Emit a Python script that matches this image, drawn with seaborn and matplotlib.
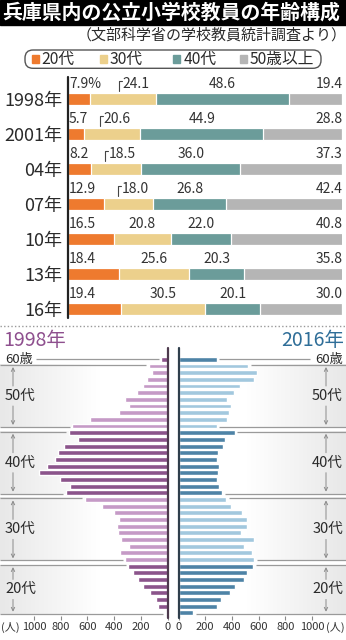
import numpy as np
import pandas as pd
import matplotlib
matplotlib.use("Agg")
import matplotlib.pyplot as plt
import seaborn as sns
from matplotlib.patches import Rectangle, FancyBboxPatch

sns.set_theme(style="white")
plt.rcParams["font.family"] = ["Noto Sans CJK JP", "DejaVu Sans"]

# ---------------- data ----------------
title = "兵庫県内の公立小学校教員の年齢構成"
source = "（文部科学省の学校教員統計調査より）"

years = ["1998年", "2001年", "04年", "07年", "10年", "13年", "16年"]
share_20s = [7.9, 5.7, 8.2, 12.9, 16.5, 18.4, 19.4]
share_30s = [24.1, 20.6, 18.5, 18.0, 20.8, 25.6, 30.5]
share_40s = [48.6, 44.9, 36.0, 26.8, 22.0, 20.3, 20.1]
share_50s = [19.4, 28.8, 37.3, 42.4, 40.8, 35.8, 30.0]
group_labels = ["20代", "30代", "40代", "50歳以上"]

ages = list(range(60, 21, -1))          # 60歳 down to 22歳
teachers_1998 = [45, 140, 115, 152, 182, 232, 317, 292, 367, 582, 712,
                 739, 669, 772, 822, 844, 901, 964, 807, 727, 759,
                 619, 489, 402, 365, 377, 372, 345, 290, 357, 315,
                 294, 262, 219, 185, 131, 85, 70, 10]
teachers_2016 = [286, 523, 588, 563, 462, 413, 361, 392, 381, 361, 286,
                 420, 348, 331, 298, 286, 303, 296, 286, 306, 328,
                 356, 393, 473, 511, 511, 466, 566, 493, 548, 566,
                 560, 515, 491, 423, 386, 318, 291, 111]
decade_labels = {5: "50代", 4: "40代", 3: "30代", 2: "20代"}
count_ticks = [0, 200, 400, 600, 800, 1000]

# ---------------- styling ----------------
group_colors = ["#ee7a2e", "#ecd08c", "#6b9c9a", "#b5b5b5"]
purple = {"dark": "#8b548b", "light": "#c59ac6"}
blue = {"dark": "#4e83a6", "light": "#a2c8de"}
line_c = "#9a9a9a"
text_c = "#2a2a2a"

W, H = 346, 640
fig = plt.figure(figsize=(W / 100, H / 100), dpi=100)
fig.patch.set_facecolor("white")


def frame(x0, y0, x1, y1):
    return [x0 / W, 1 - y1 / H, (x1 - x0) / W, (y1 - y0) / H]


# ---------------- stacked share bars ----------------
axb = fig.add_axes(frame(68.3, 81.3, 342.3, 326.5), zorder=2)
axb.set_facecolor("none")
s20, s30, s40, s50 = (np.array(v) for v in (share_20s, share_30s, share_40s, share_50s))
levels = [s20 + s30 + s40 + s50, s20 + s30 + s40, s20 + s30, s20]
for level, col in zip(levels, group_colors[::-1]):
    sns.barplot(x=level, y=years, orient="h", order=years, color=col,
                width=0.35, saturation=1, edgecolor="white", linewidth=0.9,
                errorbar=None, ax=axb)
axb.set_xlim(0, 100)
axb.set_ylim(6.5, -0.5)
axb.set_xticks([])
axb.set_xlabel("")
axb.set_ylabel("")
for s in axb.spines.values():
    s.set_visible(False)
axb.tick_params(axis="y", left=False, length=0, pad=4.5, labelsize=13,
                labelcolor=text_c)
axb.axvline(0, ymin=0.035, ymax=1.0175, color="#222222", lw=1.6,
            clip_on=False, zorder=5)

lab_kw = dict(fontsize=10, color="#333333", va="center")
bracket_shift = [10.6, 5.9, 5.2, 5.2]
for i in range(len(years)):
    y = i - 0.42
    first = f"{s20[i]:.1f}" + ("%" if i == 0 else "")
    axb.text(0.25, y, first, ha="left", **lab_kw)
    if i < len(bracket_shift):
        xb = s20[i] + bracket_shift[i]
        axb.plot([xb, xb, xb + 1.2], [i - 0.22, i - 0.5, i - 0.5],
                 color="#444444", lw=0.8, clip_on=False)
        axb.text(xb + 1.3, y, f"{s30[i]:.1f}", ha="left", **lab_kw)
    else:
        axb.text(s20[i] + s30[i] / 2, y, f"{s30[i]:.1f}", ha="center", **lab_kw)
    axb.text(s20[i] + s30[i] + s40[i] / 2, y, f"{s40[i]:.1f}", ha="center", **lab_kw)
    axb.text(100, y, f"{s50[i]:.1f}", ha="right", **lab_kw)

# ---------------- age pyramids ----------------
age_str = [str(a) for a in ages]
shade = ["dark" if (a // 10) % 2 == 0 else "light" for a in ages]
pyr = pd.DataFrame({"age": age_str, "y1998": teachers_1998,
                    "y2016": teachers_2016, "shade": shade})

px_per = 167.5 / 1255
far = 1255
gap = 2.7 / px_per


def from_outer(px):
    return far - px / px_per


def draw_pyramid(rect, col, palette, axis_color, side):
    ax = fig.add_axes(rect, zorder=2)
    ax.set_facecolor("none")
    sns.barplot(data=pyr, x=col, y="age", hue="shade", palette=palette,
                order=age_str, orient="h", width=0.74, saturation=1,
                dodge=False, legend=False, errorbar=None, ax=ax, zorder=3)
    counts = pyr[col].to_numpy()
    ha = "left" if side == "L" else "right"
    lab_px = 5 if side == "L" else 3
    arrow_px = 13 if side == "L" else 20

    # 60歳 marker line
    ax.hlines(0, counts[0] + gap, from_outer(36), color=line_c, lw=0.9)
    ax.text(from_outer(lab_px), 0, "60歳", ha=ha, va="center", fontsize=9.5,
            color=text_c)

    decades = np.array([a // 10 for a in ages])
    grad = np.ones((1, 64, 4))
    grad[..., :3] = 0.91
    grad[..., 3] = np.linspace(1, 0, 64)
    for d, lab in decade_labels.items():
        idx = np.where(decades == d)[0]
        first, last = idx[0], idx[-1]
        top, bot = first - 0.15, last + 0.15
        ax.imshow(grad, extent=(far, from_outer(100), bot, top), aspect="auto",
                  zorder=0, interpolation="bilinear")
        ax.hlines(top, counts[first] + gap, far, color=line_c, lw=0.9, zorder=1)
        ax.hlines(bot, counts[last] + gap, far, color=line_c, lw=0.9, zorder=1)
        mid = (first + last) / 2
        ax.text(from_outer(lab_px), mid, lab, ha=ha, va="center",
                fontsize=10.5, color=text_c)
        xa = from_outer(arrow_px)
        for y0, y1 in [(mid - 1.5, top + 0.3), (mid + 1.5, bot - 0.3)]:
            ax.annotate("", xy=(xa, y1), xytext=(xa, y0),
                        arrowprops=dict(arrowstyle="->", color="#8a8a8a",
                                        lw=0.7, shrinkA=0, shrinkB=0,
                                        mutation_scale=6))

    if side == "L":
        ax.set_xlim(far, 0)
    else:
        ax.set_xlim(0, far)
    ax.set_ylim(len(ages) - 0.5, -0.5)
    ax.set_xticks(count_ticks)
    ax.set_xticklabels([str(t) for t in count_ticks])
    ax.tick_params(axis="x", bottom=True, length=3, width=0.8, color="#888888",
                   pad=1.5, labelsize=8, labelcolor="#333333")
    ax.tick_params(axis="y", left=False, labelleft=False)
    ax.set_xlabel("")
    ax.set_ylabel("")
    for s in ax.spines.values():
        s.set_visible(False)
    ax.axvline(0, ymin=-0.007, ymax=1.031, color=axis_color, lw=1.6,
               clip_on=False, zorder=5)
    return ax


axl = draw_pyramid(frame(0, 356, 167.5, 616.1), "y1998", purple, "#4d3a4d", "L")
axr = draw_pyramid(frame(178.5, 356, 346, 616.1), "y2016", blue, "#2f3f4c", "R")

# ---------------- header, legend and captions ----------------
fg = fig.add_axes([0, 0, 1, 1], zorder=10)
fg.set_xlim(0, W)
fg.set_ylim(H, 0)
fg.axis("off")
fg.patch.set_alpha(0)

fg.add_patch(Rectangle((0, 0), W, 24.5, color="black"))
fg.text(2, 12.5, title, color="white", fontsize=14.3, fontweight="bold",
        va="center", ha="left")
fg.text(347, 35, source, color=text_c, fontsize=10.8, va="center", ha="right")

fg.add_patch(FancyBboxPatch((25, 50), 296, 18.3,
                            boxstyle="round,pad=0,rounding_size=8",
                            fc="white", ec="#555555", lw=1))
legend_sq_x = [31.5, 100, 173.3, 240]
for sx, col, lab in zip(legend_sq_x, group_colors, group_labels):
    fg.add_patch(Rectangle((sx, 55.3), 7, 7.5, color=col))
    fg.text(sx + 10, 59.3, lab, fontsize=11.3, color=text_c, va="center", ha="left")

fg.plot([0, W], [326, 326], ls=(0, (1, 1.6)), color="#999999", lw=1)

fg.text(3, 340, "1998年", color="#8e4f8e", fontsize=14, va="center", ha="left")
fg.text(344, 340, "2016年", color="#2f6e98", fontsize=14, va="center", ha="right")

fg.text(1, 627, "(人)", fontsize=8, color="#333333", va="center", ha="left")
fg.text(345, 627, "(人)", fontsize=8, color="#333333", va="center", ha="right")

fig.savefig("out.png", dpi=100, facecolor="white")
